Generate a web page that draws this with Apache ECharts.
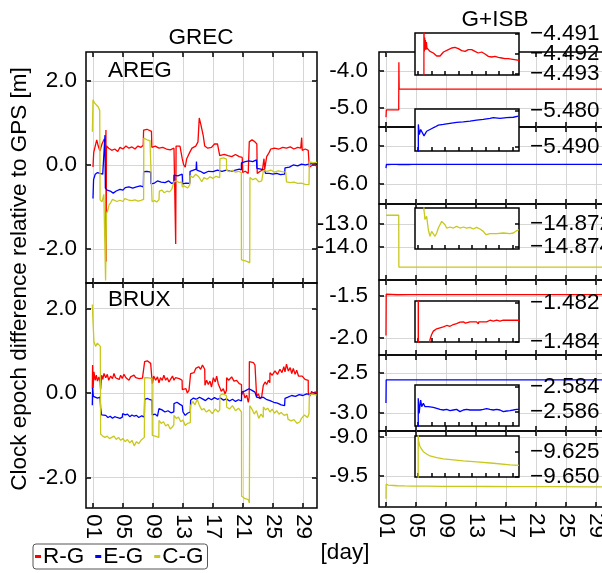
<!DOCTYPE html>
<html>
<head>
<meta charset="utf-8">
<script src="https://cdn.jsdelivr.net/npm/echarts@6.0.0/dist/echarts.min.js"></script>
<style>
  html, body { margin: 0; background: #fff; }
  #chart { width: 602px; height: 573px; }
</style>
</head>
<body>
<div id="chart"></div>
<script>
const FONT = '"Liberation Sans", Arial, sans-serif';
const RED = '#ff0000';
const BLUE = '#0000ff';
const OLIVE = '#c8c81e';

const dayTicks = [1, 5, 9, 13, 17, 21, 25, 29];
const leftTicks = [-2, 0, 2];
const isbTicks = [[-5, -4], [-6, -5], [-14, -13], [-2, -1.5], [-3, -2.5], [-9.5, -9]];
const insetTicks = [[-4.493, -4.492, -4.491], [-5.49, -5.48], [-14.874, -14.872], [-1.484, -1.482], [-2.586, -2.584], [-9.65, -9.625]];

// GREC, station AREG: [day, m]
const aregRG = [[1.0, -0.05], [1.1, 0.3], [1.3, 0.45], [1.5, 0.6], [1.7, 0.45], [1.93, 0.33], [2.2, 0.5], [2.5, 0.62], [2.7, 0.55], [2.73, 0.83], [2.75, -2.3], [2.8, 0.45], [3.1, 0.4], [3.5, 0.35], [3.9, 0.38], [4.3, 0.32], [4.6, 0.42], [5.0, 0.38], [5.4, 0.45], [5.8, 0.4], [6.2, 0.43], [6.6, 0.38], [7.0, 0.45], [7.4, 0.42], [7.7, 0.47], [7.75, 0.83], [8.2, 0.85], [8.8, 0.8], [8.85, 0.42], [9.3, 0.45], [9.8, 0.4], [10.3, 0.42], [10.8, 0.38], [11.3, 0.36], [11.8, 0.4], [12.0, 0.38], [12.03, -1.88], [12.08, 0.45], [12.6, 0.45], [12.9, 0.15], [13.1, 0.0], [13.3, -0.05], [13.5, 0.15], [13.9, 0.3], [14.2, 0.4], [14.7, 0.45], [15.0, 0.55], [15.17, 1.12], [15.4, 0.95], [15.7, 0.7], [15.9, 0.45], [16.3, 0.4], [16.8, 0.42], [17.2, 0.5], [17.6, 0.5], [17.9, 0.22], [18.5, 0.25], [19.0, 0.22], [19.5, 0.2], [20.0, 0.25], [20.5, 0.2], [20.9, 0.18], [20.96, -0.18], [21.3, -0.15], [21.7, -0.2], [21.84, 0.55], [22.2, 0.6], [22.6, 0.55], [22.85, 0.5], [22.9, -0.2], [23.3, -0.15], [23.6, -0.12], [23.8, 0.15], [23.9, -0.1], [24.1, -0.12], [24.16, 0.2], [24.5, 0.3], [24.7, 0.38], [25.2, 0.4], [25.8, 0.38], [26.3, 0.42], [26.8, 0.4], [27.3, 0.43], [27.8, 0.38], [28.3, 0.42], [28.7, 0.4], [28.83, 0.65], [28.9, 0.35], [29.3, 0.38], [29.7, 0.35], [29.84, -0.05], [30.3, 0.0], [30.87, -0.02]];
const aregEG = [[1.0, -0.8], [1.08, -0.35], [1.3, -0.22], [1.6, -0.18], [1.93, -0.2], [2.3, -0.22], [2.55, -0.2], [2.6, 0.71], [2.65, -0.55], [2.9, -0.6], [3.3, -0.62], [3.7, -0.67], [4.1, -0.62], [4.6, -0.58], [5.0, -0.6], [5.3, -0.54], [5.8, -0.52], [6.3, -0.55], [6.8, -0.52], [7.3, -0.5], [7.72, -0.52], [7.75, -0.16], [8.2, -0.15], [8.7, -0.17], [8.75, -0.45], [9.2, -0.43], [9.6, -0.38], [10.1, -0.41], [10.6, -0.42], [11.1, -0.38], [11.5, -0.44], [11.78, -0.42], [11.8, -0.24], [12.3, -0.26], [12.9, -0.22], [12.95, -0.45], [13.4, -0.43], [13.9, -0.44], [13.95, -0.15], [14.4, -0.12], [14.75, -0.1], [14.8, 0.08], [14.85, -0.12], [15.3, -0.15], [15.8, -0.2], [16.4, -0.15], [17.0, -0.16], [17.6, -0.12], [18.2, -0.15], [18.8, -0.12], [19.4, -0.15], [20.0, -0.12], [20.5, -0.1], [20.78, -0.12], [20.8, 0.05], [21.3, 0.08], [21.8, 0.1], [22.3, 0.08], [22.8, 0.12], [22.85, -0.08], [23.4, -0.1], [23.9, -0.12], [24.0, -0.2], [24.5, -0.2], [25.0, -0.22], [25.5, -0.2], [26.0, -0.23], [26.55, -0.22], [26.6, -0.07], [27.2, -0.05], [27.7, 0.0], [28.3, -0.02], [28.8, 0.02], [29.3, 0.0], [29.8, 0.02], [30.3, 0.03], [30.87, 0.04]];
const aregCG = [[0.92, 0.79], [1.0, 1.55], [1.2, 1.48], [1.4, 1.44], [1.7, 1.38], [1.9, 1.3], [1.95, -0.83], [2.2, -0.88], [2.45, -0.7], [2.56, -0.68], [2.62, -0.72], [2.68, -2.75], [2.75, -2.75], [2.8, -1.15], [2.95, -1.1], [3.15, -0.95], [3.35, -0.9], [3.6, -0.82], [3.8, -0.85], [4.2, -0.87], [4.6, -0.84], [5.0, -0.87], [5.25, -0.8], [5.5, -0.76], [5.8, -0.84], [6.2, -0.85], [6.6, -0.83], [7.0, -0.86], [7.4, -0.84], [7.75, -0.82], [7.78, 0.64], [8.2, 0.6], [8.6, 0.58], [8.85, 0.55], [8.88, -0.87], [9.2, -0.85], [9.5, -0.88], [9.8, -0.83], [9.85, -0.62], [10.2, -0.6], [10.5, -0.66], [10.9, -0.62], [11.2, -0.64], [11.5, -0.58], [11.75, -0.6], [11.8, -0.4], [12.1, -0.38], [12.5, -0.42], [12.85, -0.4], [12.9, -0.52], [13.2, -0.5], [13.6, -0.55], [13.9, -0.48], [13.95, -0.25], [14.3, -0.3], [14.7, -0.22], [15.1, -0.28], [15.3, -0.3], [15.5, -0.4], [15.8, -0.3], [16.2, -0.34], [16.6, -0.28], [17.0, -0.32], [17.4, -0.27], [17.9, -0.3], [17.93, 0.15], [18.4, 0.17], [18.8, 0.14], [18.82, -0.13], [19.2, -0.16], [19.6, -0.13], [20.0, -0.17], [20.4, -0.15], [20.78, -0.18], [20.8, -2.26], [21.2, -2.28], [21.6, -2.3], [21.9, -2.33], [21.93, -0.3], [22.3, -0.35], [22.7, -0.32], [23.1, -0.4], [23.5, -0.38], [23.7, -0.42], [23.72, -0.13], [24.2, -0.15], [24.7, -0.12], [25.2, -0.17], [25.7, -0.14], [26.2, -0.16], [26.7, -0.17], [26.8, -0.4], [27.3, -0.42], [27.8, -0.41], [28.3, -0.44], [28.8, -0.43], [29.3, -0.46], [29.8, -0.47], [29.85, 0.08], [30.3, 0.05], [30.87, 0.06]];

// GREC, station BRUX
const bruxRG = [[0.91, 0.1], [0.95, 0.66], [1.02, 0.12], [1.13, 0.5], [1.3, 0.3], [1.45, 0.42], [1.6, 0.28], [1.8, 0.38], [1.95, 0.26], [2.02, 0.08], [2.15, 0.42], [2.3, 0.32], [2.47, 0.46], [2.7, 0.36], [2.91, 0.44], [3.1, 0.3], [3.36, 0.4], [3.6, 0.34], [3.8, 0.46], [4.0, 0.36], [4.24, 0.4], [4.5, 0.32], [4.69, 0.42], [4.91, 0.34], [5.13, 0.44], [5.4, 0.36], [5.58, 0.4], [5.8, 0.3], [6.02, 0.38], [6.25, 0.34], [6.47, 0.42], [6.7, 0.36], [6.91, 0.4], [7.15, 0.34], [7.36, 0.38], [7.6, 0.35], [7.85, 0.36], [7.89, 0.74], [8.24, 0.76], [8.69, 0.7], [8.88, 0.66], [8.91, 0.22], [9.1, 0.4], [9.36, 0.3], [9.6, 0.38], [9.8, 0.24], [10.0, 0.36], [10.24, 0.3], [10.45, 0.42], [10.69, 0.3], [10.9, 0.36], [11.13, 0.26], [11.4, 0.34], [11.6, 0.4], [11.8, 0.3], [12.0, 0.36], [12.24, 0.32], [12.5, 0.34], [12.88, 0.3], [12.91, 0.08], [13.13, 0.04], [13.4, 0.1], [13.58, 0.0], [13.8, 0.06], [14.0, 0.04], [14.02, 0.46], [14.25, 0.5], [14.47, 0.48], [14.7, 0.58], [14.91, 0.54], [15.1, 0.62], [15.36, 0.56], [15.6, 0.66], [15.9, 0.56], [15.93, 0.18], [16.15, 0.3], [16.38, 0.2], [16.6, 0.28], [16.8, 0.14], [17.05, 0.36], [17.3, 0.26], [17.49, 0.4], [17.7, 0.22], [17.93, 0.12], [18.1, 0.04], [18.38, 0.1], [18.6, -0.02], [18.8, 0.06], [18.82, 0.36], [19.1, 0.3], [19.49, 0.38], [19.8, 0.28], [20.16, 0.3], [20.5, 0.22], [20.8, 0.2], [20.82, -0.04], [21.05, 0.02], [21.27, -0.12], [21.5, -0.05], [21.71, -0.22], [21.83, -0.1], [21.85, 0.74], [22.1, 0.7], [22.38, 0.72], [22.6, 0.66], [22.8, 0.68], [22.82, -0.08], [23.05, -0.02], [23.27, -0.14], [23.5, -0.08], [23.7, -0.1], [23.71, 0.18], [23.95, 0.26], [24.16, 0.2], [24.4, 0.3], [24.58, 0.24], [24.6, 0.48], [24.9, 0.42], [25.27, 0.52], [25.6, 0.44], [25.93, 0.56], [26.2, 0.48], [26.45, 0.62], [26.6, 0.5], [26.8, 0.68], [27.05, 0.52], [27.3, 0.6], [27.5, 0.46], [27.71, 0.58], [27.95, 0.44], [28.16, 0.54], [28.4, 0.4], [28.6, 0.36], [28.9, 0.4], [29.27, 0.32], [29.5, 0.36], [29.7, 0.3], [29.71, 0.02], [29.9, -0.08], [30.16, 0.04], [30.4, -0.04], [30.6, 0.03], [30.82, 0.0]];
const bruxEG = [[0.91, -0.29], [0.95, 0.12], [1.05, -0.08], [1.3, -0.05], [1.6, -0.12], [1.95, -0.1], [2.02, -0.35], [2.15, -0.52], [2.4, -0.56], [2.7, -0.53], [3.0, -0.58], [3.3, -0.55], [3.6, -0.6], [3.9, -0.56], [4.2, -0.58], [4.6, -0.6], [4.91, -0.57], [4.95, -0.49], [5.3, -0.52], [5.6, -0.5], [5.9, -0.56], [6.2, -0.52], [6.5, -0.55], [6.8, -0.53], [7.1, -0.58], [7.5, -0.54], [7.85, -0.57], [7.89, -0.15], [8.3, -0.13], [8.6, -0.16], [8.88, -0.17], [8.91, -0.52], [9.3, -0.5], [9.6, -0.55], [9.78, -0.52], [9.8, -0.37], [10.2, -0.4], [10.6, -0.45], [11.0, -0.42], [11.4, -0.47], [11.78, -0.45], [11.8, -0.25], [12.2, -0.22], [12.6, -0.27], [12.9, -0.3], [13.0, -0.45], [13.3, -0.53], [13.6, -0.48], [13.98, -0.45], [14.02, -0.17], [14.4, -0.12], [14.8, -0.15], [15.2, -0.1], [15.6, -0.14], [16.0, -0.18], [16.4, -0.12], [16.8, -0.16], [17.2, -0.11], [17.6, -0.15], [18.0, -0.12], [18.4, -0.17], [18.8, -0.14], [19.2, -0.19], [19.6, -0.15], [20.0, -0.2], [20.4, -0.16], [20.8, -0.19], [20.82, 0.02], [21.3, 0.05], [21.8, 0.1], [22.2, 0.06], [22.6, 0.02], [22.8, 0.04], [22.82, -0.1], [23.3, -0.12], [23.7, -0.1], [24.1, -0.15], [24.6, -0.18], [25.1, -0.22], [25.6, -0.24], [26.1, -0.28], [26.55, -0.3], [26.6, -0.13], [27.0, -0.1], [27.5, -0.06], [28.0, -0.08], [28.5, -0.04], [29.0, -0.06], [29.5, -0.02], [30.0, -0.04], [30.4, 0.0], [30.82, -0.02]];
const bruxCG = [[0.91, 2.09], [1.0, 1.7], [1.13, 1.21], [1.36, 1.1], [1.58, 1.18], [1.8, 1.21], [1.98, 1.1], [2.02, -0.97], [2.3, -1.02], [2.6, -1.05], [2.9, -1.02], [3.2, -1.08], [3.5, -1.05], [3.8, -1.02], [4.1, -1.1], [4.4, -1.05], [4.7, -1.12], [5.0, -1.08], [5.3, -1.15], [5.6, -1.1], [5.9, -1.18], [6.2, -1.12], [6.5, -1.25], [6.8, -1.15], [7.1, -1.2], [7.4, -1.12], [7.85, -1.05], [7.89, 0.36], [8.3, 0.36], [8.88, 0.34], [8.91, -1.0], [9.3, -1.02], [9.78, -1.05], [9.8, -0.65], [10.1, -0.72], [10.4, -0.68], [10.7, -0.78], [11.0, -0.74], [11.3, -0.85], [11.6, -0.8], [11.78, -0.75], [11.8, -0.53], [12.1, -0.6], [12.4, -0.57], [12.7, -0.68], [13.0, -0.64], [13.3, -0.77], [13.6, -0.72], [13.98, -0.7], [14.02, -0.3], [14.3, -0.2], [14.6, -0.28], [14.9, -0.15], [15.2, -0.3], [15.5, -0.4], [15.8, -0.37], [16.1, -0.45], [16.5, -0.4], [16.9, -0.49], [17.3, -0.38], [17.7, -0.45], [17.9, -0.4], [17.93, -0.06], [18.3, -0.02], [18.8, -0.06], [18.82, -0.33], [19.2, -0.38], [19.6, -0.3], [20.0, -0.42], [20.4, -0.36], [20.8, -0.45], [20.82, -2.44], [21.3, -2.5], [21.7, -2.52], [21.85, -2.6], [21.9, -0.3], [22.2, -0.38], [22.5, -0.5], [22.8, -0.42], [23.1, -0.6], [23.4, -0.5], [23.7, -0.58], [23.72, -0.33], [24.0, -0.4], [24.3, -0.36], [24.6, -0.45], [24.9, -0.38], [25.2, -0.48], [25.5, -0.42], [25.8, -0.5], [26.1, -0.46], [26.5, -0.53], [26.9, -0.5], [27.0, -0.62], [27.4, -0.66], [27.8, -0.63], [28.2, -0.72], [28.6, -0.68], [28.8, -0.6], [29.2, -0.52], [29.6, -0.58], [29.8, -0.5], [29.85, -0.05], [30.3, -0.02], [30.82, -0.05]];

// G+ISB estimates, same series shown in the main panels and the zoomed insets
const isbAregR = [[1.0, -5.25], [1.05, -5.05], [2.7, -5.05], [2.72, -3.76], [2.76, -4.49112], [2.85, -4.49187], [2.95, -4.49118], [3.05, -4.49175], [3.15, -4.4913], [3.3, -4.4918], [3.45, -4.4914], [3.6, -4.4917], [4.0, -4.4917], [4.5, -4.49187], [5.0, -4.4919], [5.5, -4.49195], [6.0, -4.49203], [6.5, -4.4921], [6.97, -4.49217], [7.5, -4.4921], [7.97, -4.49203], [8.5, -4.4919], [8.95, -4.49183], [9.94, -4.49178], [10.93, -4.4917], [11.91, -4.49167], [12.9, -4.49173], [13.9, -4.49183], [14.9, -4.49187], [15.85, -4.49178], [16.4, -4.4918], [16.86, -4.49178], [17.3, -4.4918], [17.84, -4.49187], [18.8, -4.49195], [19.82, -4.4919], [20.8, -4.492], [21.8, -4.49212], [22.78, -4.49215], [23.76, -4.49212], [24.74, -4.49217], [25.74, -4.4922], [26.72, -4.49223], [27.7, -4.49223], [28.2, -4.49232], [30.87, -4.49232]];
const isbAregE = [[1.0, -5.58], [1.06, -5.4838], [1.35, -5.4866], [1.75, -5.4852], [2.34, -5.4857], [2.74, -5.487], [3.52, -5.4857], [4.02, -5.4861], [4.51, -5.4852], [5.0, -5.4847], [6.0, -5.4845], [6.98, -5.484], [8.46, -5.4838], [10.43, -5.4835], [12.4, -5.4832], [14.38, -5.4831], [16.36, -5.4829], [18.33, -5.4826], [20.3, -5.4824], [22.28, -5.4821], [23.27, -5.4819], [25.24, -5.4821], [27.2, -5.4819], [29.19, -5.4818], [30.67, -5.4815], [30.87, -5.4815]];
const isbAregC = [[1.0, -12.62], [2.7, -12.62], [2.72, -14.8708], [2.9, -14.8712], [3.0, -14.8716], [3.52, -14.87133], [4.02, -14.8725], [4.51, -14.87307], [5.0, -14.87264], [5.5, -14.8725], [6.0, -14.87307], [6.5, -14.87278], [6.98, -14.87235], [7.5, -14.8722], [7.97, -14.87177], [8.46, -14.87162], [8.95, -14.87206], [9.44, -14.87235], [10.43, -14.87226], [11.42, -14.87235], [12.4, -14.8722], [13.4, -14.87235], [14.38, -14.87226], [15.37, -14.87235], [16.36, -14.87229], [17.35, -14.87243], [18.33, -14.87229], [19.3, -14.87243], [20.3, -14.87264], [21.1, -14.87293], [22.28, -14.87284], [24.25, -14.87284], [26.2, -14.87278], [28.2, -14.87284], [29.19, -14.87278], [30.17, -14.87258], [30.87, -14.8725]];
const isbBruxR = [[1.0, -1.97], [1.03, -1.479], [1.08, -1.485], [2.5, -1.4848], [4.3, -1.4843], [4.51, -1.48388], [5.0, -1.48362], [5.5, -1.48345], [6.49, -1.48333], [7.48, -1.48328], [8.46, -1.48323], [9.45, -1.48316], [10.43, -1.4832], [11.42, -1.48311], [12.4, -1.48306], [12.9, -1.48312], [13.39, -1.48299], [14.38, -1.48297], [15.0, -1.48304], [15.5, -1.48297], [16.36, -1.48297], [18.33, -1.48297], [18.82, -1.48308], [19.0, -1.48297], [21.29, -1.48297], [22.28, -1.48289], [23.27, -1.48294], [24.25, -1.48289], [25.24, -1.48294], [26.22, -1.48289], [28.2, -1.48289], [30.87, -1.48289]];
const isbBruxE = [[1.0, -2.875], [1.03, -2.58491], [1.15, -2.58531], [1.3, -2.58611], [1.45, -2.58571], [1.75, -2.58504], [2.05, -2.58557], [2.54, -2.58531], [3.03, -2.58557], [3.52, -2.58544], [4.02, -2.58557], [4.51, -2.58552], [5.5, -2.58563], [6.49, -2.58571], [7.48, -2.58579], [8.46, -2.58584], [9.45, -2.58579], [10.43, -2.58589], [11.42, -2.58584], [12.4, -2.58579], [13.39, -2.58597], [14.38, -2.58584], [15.37, -2.58579], [16.36, -2.58584], [17.34, -2.58584], [18.33, -2.58584], [19.32, -2.58584], [20.3, -2.58579], [21.29, -2.58573], [22.28, -2.58579], [23.27, -2.58584], [24.25, -2.58579], [25.24, -2.58584], [26.22, -2.58597], [27.21, -2.58592], [28.2, -2.58589], [29.19, -2.58584], [30.17, -2.58579], [30.87, -2.58579]];
const isbBruxC = [[1.0, -9.79], [1.02, -9.605], [1.08, -9.613], [1.3, -9.6163], [1.55, -9.6197], [2.05, -9.6213], [2.54, -9.6247], [3.52, -9.627], [4.51, -9.629], [6.49, -9.6307], [8.46, -9.632], [11.42, -9.633], [14.38, -9.634], [18.33, -9.635], [23.27, -9.6363], [28.2, -9.638], [30.87, -9.6385]];

const DAY_MIN = 0.07;
const DAY_MAX = 30.87;
const FS = 22.5;
const BLACK_TICK = { color: '#000', width: 1.5 };
const GRID_LINE = { color: '#d6d6d6', width: 1 };
const LABEL = { fontSize: FS, color: '#000', fontFamily: FONT };

const grid = [];
const xAxis = [];
const yAxis = [];
const series = [];

function addGrid(box, inset) {
  grid.push({
    left: box.left, top: box.top, width: box.width, height: box.height,
    show: true, borderColor: '#000', borderWidth: 1.5,
    backgroundColor: inset ? '#fff' : 'transparent',
    z: inset ? 10 : 0,
    outerBoundsMode: 'none',
    containLabel: false,
  });
  return grid.length - 1;
}

function dayAxis(gridIndex, position, withLabels, z) {
  xAxis.push({
    type: 'value', gridIndex, position, min: DAY_MIN, max: DAY_MAX, z,
    axisLine: { show: false, onZero: false },
    axisTick: { show: true, inside: true, length: z ? 4 : 5, customValues: dayTicks, lineStyle: BLACK_TICK },
    axisLabel: {
      show: withLabels, customValues: dayTicks, rotate: -90, margin: 6, ...LABEL,
      formatter: (v) => String(v).padStart(2, '0'),
    },
    splitLine: { show: position === 'bottom' && !z, lineStyle: GRID_LINE },
  });
  return xAxis.length - 1;
}

function valueAxis(gridIndex, position, min, max, ticks, opts) {
  yAxis.push({
    type: 'value', gridIndex, position, min, max, z: opts.z || 0,
    axisLine: { show: false, onZero: false },
    axisTick: { show: opts.ticks !== false, inside: true, length: opts.tickLen || 5, customValues: ticks, lineStyle: BLACK_TICK },
    axisLabel: {
      show: !!opts.labels, customValues: opts.labelValues || ticks, margin: opts.margin || 10, ...LABEL,
      hideOverlap: false,
      formatter: opts.formatter || ((v) => v.toFixed(1)),
    },
    splitLine: { show: !!opts.split, lineStyle: GRID_LINE },
  });
  return yAxis.length - 1;
}

function addLine(name, color, data, x, y, z) {
  series.push({
    name, type: 'line', data, xAxisIndex: x, yAxisIndex: y, z: z || 2,
    color, symbol: 'none', clip: true,
    lineStyle: { width: 1.3, color },
  });
}

// left column (GREC)
const leftPanels = [
  { top: 52, height: 231, min: -2.81, max: 2.69, data: [aregRG, aregEG, aregCG] },
  { top: 283, height: 225, min: -2.72, max: 2.6, data: [bruxRG, bruxEG, bruxCG] },
];
leftPanels.forEach((p, i) => {
  const g = addGrid({ left: 86, top: p.top, width: 231, height: p.height });
  const x = dayAxis(g, 'bottom', i === 1, 0);
  dayAxis(g, 'top', false, 0);
  const y = valueAxis(g, 'left', p.min, p.max, leftTicks, { labels: true, split: true, margin: 9 });
  valueAxis(g, 'right', p.min, p.max, leftTicks, {});
  addLine('R-G', RED, p.data[0], x, y);
  addLine('E-G', BLUE, p.data[1], x, y);
  addLine('C-G', OLIVE, p.data[2], x, y);
});

// right column (G+ISB)
const isbPanels = [
  { top: 52, height: 75, min: -5.514, max: -3.486, color: RED, name: 'R-G', data: isbAregR },
  { top: 127, height: 77, min: -6.526, max: -4.5, color: BLUE, name: 'E-G', data: isbAregE },
  { top: 204, height: 76, min: -15.435, max: -12.13, color: OLIVE, name: 'C-G', data: isbAregC },
  { top: 280, height: 75, min: -2.2, max: -1.31, color: RED, name: 'R-G', data: isbBruxR },
  { top: 355, height: 76, min: -3.225, max: -2.275, color: BLUE, name: 'E-G', data: isbBruxE },
  { top: 431, height: 76, min: -9.897, max: -8.923, color: OLIVE, name: 'C-G', data: isbBruxC },
];
const insetBoxes = [
  { top: 33, height: 42, min: -4.49305, max: -4.49095 },
  { top: 109, height: 42, min: -5.4912, max: -5.4795 },
  { top: 208, height: 41, min: -14.87417, max: -14.87061 },
  { top: 301, height: 41, min: -1.48401, max: -1.4819 },
  { top: 385, height: 41, min: -2.58712, max: -2.58384 },
  { top: 436, height: 41, min: -9.6501, max: -9.609 },
];
isbPanels.forEach((p, i) => {
  const g = addGrid({ left: 379, top: p.top, width: 231, height: p.height });
  const x = dayAxis(g, 'bottom', i === 5, 0);
  dayAxis(g, 'top', false, 0);
  const y = valueAxis(g, 'left', p.min, p.max, isbTicks[i], { labels: true, split: true, margin: 11 });
  addLine(p.name, p.color, p.data, x, y);
});
const insetLabel = (v) => '\u2212' + Math.abs(v).toFixed(3);
insetBoxes.forEach((b, i) => {
  const p = isbPanels[i];
  const ticks = insetTicks[i];
  const ends = [ticks[0], ticks[ticks.length - 1]];
  const g = addGrid({ left: 415, top: b.top, width: 104, height: b.height }, true);
  const x = dayAxis(g, 'bottom', false, 12);
  const y = valueAxis(g, 'right', b.min, b.max, ticks, {
    labels: true, labelValues: ends, z: 12, margin: 11, tickLen: 4, formatter: insetLabel,
  });
  // middle labels on a twin axis so the overlap check keeps all of them
  if (ticks.length > 2) {
    valueAxis(g, 'right', b.min, b.max, ticks.slice(1, -1), {
      labels: true, ticks: false, z: 12, margin: 11, formatter: insetLabel,
    });
  }
  addLine(p.name, p.color, p.data, x, y, 12);
});

const text = (t, x, y, align, extra) => ({
  type: 'text', x, y, z: 20, ...extra,
  style: { text: t, font: FS + 'px ' + FONT, fill: '#000', textAlign: align, textVerticalAlign: 'middle' },
});

const chart = echarts.init(document.getElementById('chart'));
chart.setOption({
  animation: false,
  backgroundColor: '#fff',
  grid, xAxis, yAxis, series,
  legend: {
    data: ['R-G', 'E-G', 'C-G'],
    left: 33, top: 544,
    icon: 'rect', itemWidth: 6, itemHeight: 3, itemGap: 11,
    padding: [1, 4, 1, 2],
    borderColor: '#555', borderWidth: 1, borderRadius: 3,
    textStyle: { ...LABEL, padding: [0, 0, 0, -3] },
  },
  graphic: [
    text('GREC', 201, 38, 'center'),
    text('G+ISB', 495, 20, 'center'),
    text('AREG', 108, 71, 'left'),
    text('BRUX', 108, 300, 'left'),
    text('[day]', 345, 553, 'center'),
    text('Clock epoch difference relative to GPS [m]', 20, 279, 'center', { rotation: Math.PI / 2 }),
  ],
});
</script>
</body>
</html>
